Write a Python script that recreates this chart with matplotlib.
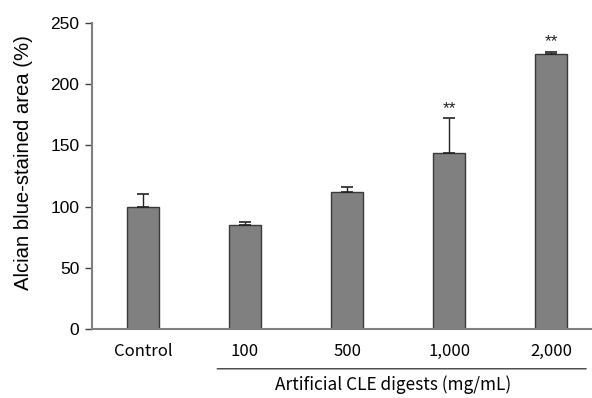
import matplotlib
matplotlib.use("Agg")
import matplotlib.pyplot as plt

categories = ["Control", "100", "500", "1,000", "2,000"]
values = [100, 85, 112, 144, 225]
errors = [10, 2, 4, 28, 1.5]
stars = ["", "", "", "**", "**"]
yticks = [0, 50, 100, 150, 200, 250]

fig = plt.figure(figsize=(5.92, 3.98), dpi=100)
ax = fig.add_axes([0.1554, 0.1734, 0.8446, 0.769])

x = list(range(len(categories)))
ax.bar(x, values, width=0.31, color="#808080", edgecolor="#3a3a3a", linewidth=1.0,
       yerr=[[0]*len(errors), errors], error_kw=dict(ecolor="#222222", elinewidth=1.0, capsize=4, capthick=1.2))
for xi, v, e, s in zip(x, values, errors, stars):
    if s:
        ax.text(xi, v + e + 2, s, ha="center", va="bottom", fontsize=12.5, color="#222222",
                family=["Liberation Sans"])

ax.set_xlim(-0.5, 4.4)
ax.set_ylim(0, 250)
ax.set_yticks(yticks)
ax.set_yticklabels([str(t) for t in yticks], family="Liberation Sans", fontsize=12.5)
ax.set_xticks(x)
ax.set_xticklabels(categories, family="Noto Sans CJK KR", fontsize=12)
ax.tick_params(axis="x", length=0, pad=10)
ax.tick_params(axis="y", length=5, width=1, color="#404040", direction="out", pad=4)
for side in ["top", "right"]:
    ax.spines[side].set_visible(False)
for side in ["left", "bottom"]:
    ax.spines[side].set_color("#808080")
    ax.spines[side].set_linewidth(1.5)

ax.set_ylabel("Alcian blue-stained area (%)", family="Liberation Sans", fontsize=14.6, labelpad=8)
ax.yaxis.set_label_coords(-0.117, 0.544)

# bracket under dose groups
ax.annotate("", xy=(0.7, -0.13), xycoords=("data", "axes fraction"),
            xytext=(4.37, -0.13), textcoords=("data", "axes fraction"),
            arrowprops=dict(arrowstyle="-", color="#404040", lw=1.0))
ax.text(2.45, -0.183, "Artificial CLE digests (mg/mL)", transform=ax.get_xaxis_transform(),
        ha="center", va="center", family="Noto Sans CJK KR", fontsize=12.4)

fig.savefig("out.png", dpi=100)
